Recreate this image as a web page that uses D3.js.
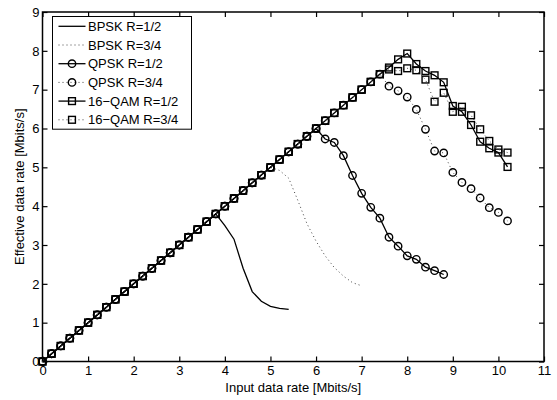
<!DOCTYPE html>
<html>
<head>
<meta charset="utf-8">
<script src="https://cdn.jsdelivr.net/npm/d3@7"></script>
<style>
  body { margin: 0; background: #fff; }
  svg text { font-family: "Liberation Sans", Arial, Helvetica, sans-serif; fill: #000; }
</style>
</head>
<body>
<div id="chart"></div>
<script>
// input rate grid, Mbits/s
var inputRate = [0, 0.2, 0.4, 0.6, 0.8, 1.0, 1.2, 1.4, 1.6, 1.8, 2.0, 2.2, 2.4, 2.6, 2.8, 3.0, 3.2, 3.4, 3.6, 3.8,
    4.0, 4.2, 4.4, 4.6, 4.8, 5.0, 5.2, 5.4, 5.6, 5.8, 6.0, 6.2, 6.4, 6.6, 6.8, 7.0, 7.2, 7.4, 7.6, 7.8,
    8.0, 8.2, 8.4, 8.6, 8.8, 9.0, 9.2, 9.4, 9.6, 9.8, 10.0, 10.2];

// effective rate while nothing is dropped (same for every scheme)
var linearRamp = [0, 0.2, 0.4, 0.6, 0.8, 1.0, 1.2, 1.4, 1.6, 1.8, 2.0, 2.2, 2.4, 2.6, 2.8, 3.0, 3.2, 3.4, 3.6, 3.8,
    4.0, 4.2, 4.4, 4.6, 4.8, 5.0, 5.2, 5.4, 5.6, 5.8, 6.0, 6.2, 6.4, 6.6, 6.8, 7.0, 7.2, 7.4];

var bpskHalf = linearRamp.slice(0, 20).concat([3.5, 3.15, 2.4, 1.8, 1.55, 1.42, 1.37, 1.34]);
var bpskThreeQuarter = linearRamp.slice(0, 26).concat([4.92, 4.72, 4.15, 3.55, 3.1, 2.72, 2.42, 2.2, 2.03, 1.95]);
var qpskHalf = linearRamp.slice(0, 31).concat([5.73, 5.64, 5.30, 4.79, 4.33, 3.97, 3.69, 3.2, 2.97, 2.72, 2.63, 2.43, 2.34, 2.24]);
var qpskThreeQuarter = linearRamp.concat([7.09, 6.97, 6.81, 6.49, 5.98, 5.42, 5.37, 4.87, 4.61, 4.45, 4.21, 3.96, 3.84, 3.62]);
var qamHalf = linearRamp.concat([7.57, 7.78, 7.93, 7.66, 7.48, 7.37, 7.19, 6.58, 6.43, 6.09, 5.66, 5.49, 5.38, 5.01]);
var qamThreeQuarter = linearRamp.concat([7.52, 7.48, 7.55, 7.50, 7.26, 6.69, 6.92, 6.43, 6.56, 6.34, 5.98, 5.68, 5.46, 5.38]);

var seriesNames = ["BPSK R=1/2", "BPSK R=3/4", "QPSK R=1/2", "QPSK R=3/4", "16\u2212QAM R=1/2", "16\u2212QAM R=3/4"];
var seriesValues = [bpskHalf, bpskThreeQuarter, qpskHalf, qpskThreeQuarter, qamHalf, qamThreeQuarter];
var seriesMarkers = ["none", "none", "circle", "circle", "square", "square"];
var seriesDotted = [false, true, false, true, false, true];

var xTicks = [0, 1, 2, 3, 4, 5, 6, 7, 8, 9, 10, 11];
var yTicks = [0, 1, 2, 3, 4, 5, 6, 7, 8, 9];

var width = 557, height = 400;
var margin = { top: 12, right: 13, bottom: 38.5, left: 42.5 };
var plotW = width - margin.left - margin.right;
var plotH = height - margin.top - margin.bottom;

var svg = d3.select("#chart").append("svg")
    .attr("width", width)
    .attr("height", height);

var g = svg.append("g")
    .attr("transform", "translate(" + margin.left + "," + margin.top + ")");

var x = d3.scaleLinear().domain([0, 11]).range([0, plotW]);
var y = d3.scaleLinear().domain([0, 9]).range([plotH, 0]);

// axes: ticks point inwards on all four sides, like matlab
var tickLen = 5;
g.append("g")
    .attr("transform", "translate(0," + plotH + ")")
    .call(d3.axisBottom(x).tickValues(xTicks).tickSize(-tickLen).tickPadding(4).tickFormat(d3.format("d")))
    .call(styleAxis);
g.append("g")
    .call(d3.axisTop(x).tickValues(xTicks).tickSize(-tickLen).tickFormat(""))
    .call(styleAxis);
g.append("g")
    .call(d3.axisLeft(y).tickValues(yTicks).tickSize(-tickLen).tickPadding(3).tickFormat(d3.format("d")))
    .call(styleAxis);
g.append("g")
    .attr("transform", "translate(" + plotW + ",0)")
    .call(d3.axisRight(y).tickValues(yTicks).tickSize(-tickLen).tickFormat(""))
    .call(styleAxis);

function styleAxis(sel) {
    sel.select(".domain").remove();
    sel.selectAll(".tick line").attr("stroke", "#000").attr("stroke-width", 1.2);
    sel.selectAll(".tick text").attr("font-size", 13);
}

g.append("rect")
    .attr("width", plotW)
    .attr("height", plotH)
    .attr("fill", "none")
    .attr("stroke", "#000")
    .attr("stroke-width", 1.5);

var line = d3.line()
    .x(function (d, i) { return x(inputRate[i]); })
    .y(function (d) { return y(d); });

function drawMarker(sel, type) {
    if (type === "circle") {
        sel.append("circle").attr("r", 3.7);
    } else if (type === "square") {
        sel.append("rect").attr("x", -3.4).attr("y", -3.4).attr("width", 6.8).attr("height", 6.8);
    }
    sel.selectAll("circle, rect")
        .attr("fill", "none")
        .attr("stroke", "#000")
        .attr("stroke-width", 1.4);
}

seriesValues.forEach(function (vals, k) {
    g.append("path")
        .datum(vals)
        .attr("d", line)
        .attr("fill", "none")
        .attr("stroke", seriesDotted[k] ? "#444" : "#000")
        .attr("stroke-width", seriesDotted[k] ? 1 : 1.3)
        .attr("stroke-dasharray", seriesDotted[k] ? "1,3" : null);

    if (seriesMarkers[k] !== "none") {
        g.append("g").selectAll("g")
            .data(vals)
            .enter().append("g")
            .attr("transform", function (d, i) { return "translate(" + x(inputRate[i]) + "," + y(d) + ")"; })
            .each(function () { drawMarker(d3.select(this), seriesMarkers[k]); });
    }
});

// axis labels
svg.append("text")
    .attr("x", margin.left + plotW / 2)
    .attr("y", 392)
    .attr("text-anchor", "middle")
    .attr("font-size", 13)
    .text("Input data rate [Mbits/s]");

svg.append("text")
    .attr("transform", "translate(24," + (margin.top + plotH / 2) + ") rotate(-90)")
    .attr("text-anchor", "middle")
    .attr("font-size", 13)
    .text("Effective data rate [Mbits/s]");

// legend
var legX = 52.5, legY = 16.5, legW = 139, rowH = 18.7;
var legend = svg.append("g").attr("transform", "translate(" + legX + "," + legY + ")");
legend.append("rect")
    .attr("width", legW)
    .attr("height", rowH * seriesNames.length + 0.5)
    .attr("fill", "#fff")
    .attr("stroke", "#000")
    .attr("stroke-width", 1);

var rows = legend.selectAll(".row")
    .data(seriesNames)
    .enter().append("g")
    .attr("class", "row")
    .attr("transform", function (d, i) { return "translate(0," + (9.8 + i * rowH) + ")"; });

rows.append("line")
    .attr("x1", 6).attr("x2", 33)
    .attr("stroke", function (d, i) { return seriesDotted[i] ? "#444" : "#000"; })
    .attr("stroke-width", function (d, i) { return seriesDotted[i] ? 1 : 1.3; })
    .attr("stroke-dasharray", function (d, i) { return seriesDotted[i] ? "1,3" : null; });

rows.append("g")
    .attr("transform", "translate(19.5,0)")
    .each(function (d, i) { drawMarker(d3.select(this), seriesMarkers[i]); });

rows.append("text")
    .attr("x", 35.5)
    .attr("dy", "0.36em")
    .attr("font-size", 13)
    .text(function (d) { return d; });
</script>
</body>
</html>
